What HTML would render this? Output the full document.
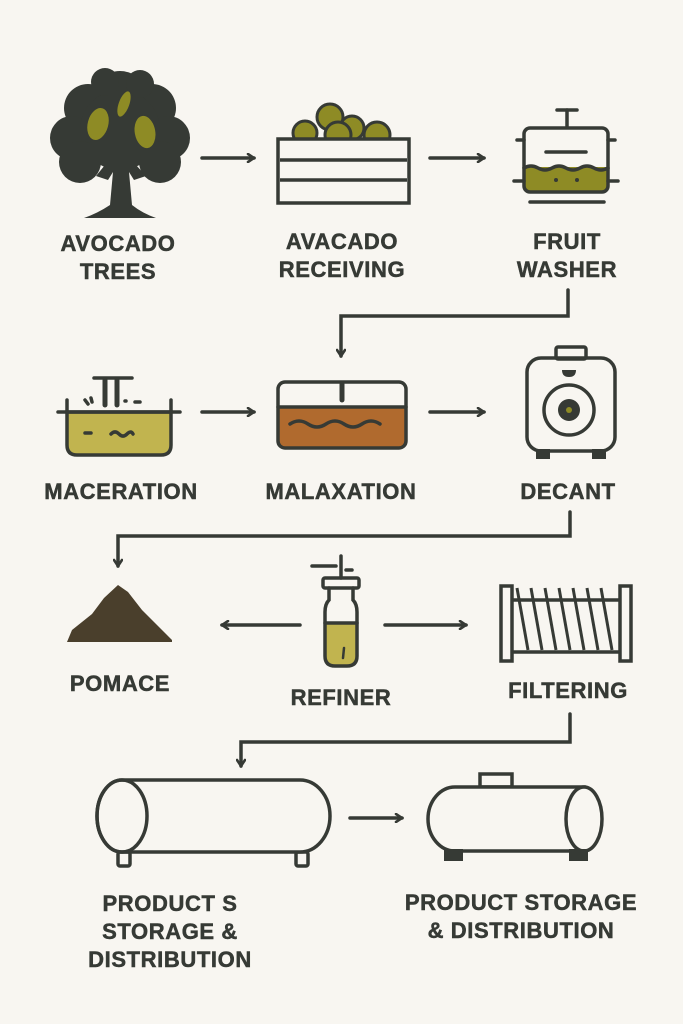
<!DOCTYPE html>
<html><head><meta charset="utf-8"><style>
html,body{margin:0;padding:0;background:#f8f6f1;}
svg{display:block}
text{font-family:"Liberation Sans",sans-serif;font-weight:bold;font-size:22px;letter-spacing:0.6px;fill:#363a35;text-anchor:middle;stroke:#363a35;stroke-width:0.5px}
</style></head><body>
<svg width="683" height="1024" viewBox="0 0 683 1024" xmlns="http://www.w3.org/2000/svg">
<rect width="683" height="1024" fill="#f8f6f1"/>
<defs>
<marker id="ah" markerWidth="10" markerHeight="10" refX="8" refY="5" orient="auto" markerUnits="userSpaceOnUse">
<path d="M2,1 L8,5 L2,9" fill="none" stroke="#363a35" stroke-width="2.6" stroke-linecap="round"/>
</marker>
</defs>
<g stroke="#363a35" stroke-width="3.5" fill="none" stroke-linecap="round">
<line x1="202" y1="158" x2="254" y2="158" marker-end="url(#ah)"/>
<line x1="430" y1="158" x2="484" y2="158" marker-end="url(#ah)"/>
<polyline points="568,290 568,316 341,316 341,356" marker-end="url(#ah)"/>
<line x1="202" y1="412" x2="254" y2="412" marker-end="url(#ah)"/>
<line x1="430" y1="412" x2="484" y2="412" marker-end="url(#ah)"/>
<polyline points="570,512 570,536 118,536 118,566" marker-end="url(#ah)"/>
<line x1="300" y1="625" x2="222" y2="625" marker-end="url(#ah)"/>
<line x1="385" y1="625" x2="466" y2="625" marker-end="url(#ah)"/>
<polyline points="570,714 570,742 241,742 241,766" marker-end="url(#ah)"/>
<line x1="350" y1="818" x2="402" y2="818" marker-end="url(#ah)"/>
</g>
<!-- tree -->
<g fill="#363a35">
<circle cx="120" cy="98" r="27"/><circle cx="88" cy="108" r="24"/><circle cx="152" cy="108" r="24"/>
<circle cx="72" cy="138" r="22"/><circle cx="168" cy="138" r="22"/><circle cx="120" cy="130" r="40"/>
<circle cx="80" cy="162" r="21"/><circle cx="160" cy="162" r="21"/><circle cx="105" cy="82" r="14"/><circle cx="140" cy="84" r="14"/>
<path d="M105,165 L96,176 L108,180 L113,172 L110,205 Q98,213 84,218 L156,218 Q142,213 132,205 L129,172 L134,180 L146,176 L136,165 Z"/>
</g>
<g fill="#8e8b25" stroke="#363a35" stroke-width="1.5">
<ellipse cx="98" cy="124" rx="11" ry="17" transform="rotate(15 98 124)"/>
<ellipse cx="124" cy="104" rx="6" ry="14" transform="rotate(20 124 104)"/>
<ellipse cx="145" cy="132" rx="11" ry="17" transform="rotate(-10 145 132)"/>
</g>
<!-- crate -->
<g fill="#8e8b25" stroke="#363a35" stroke-width="3">
<circle cx="330" cy="117" r="13"/><circle cx="305" cy="133" r="12"/><circle cx="352" cy="128" r="12"/>
<circle cx="338" cy="135" r="13"/><circle cx="377" cy="135" r="13"/>
</g>
<rect x="278" y="139" width="131" height="64" fill="#f8f6f1" stroke="#363a35" stroke-width="3.5"/>
<g stroke="#363a35" stroke-width="3.5"><line x1="280" y1="160" x2="407" y2="160"/><line x1="280" y1="180" x2="407" y2="180"/></g>
<!-- washer -->
<g stroke="#363a35" stroke-width="3.5" fill="none" stroke-linecap="round">
<line x1="557" y1="110" x2="577" y2="110"/><line x1="567" y1="110" x2="567" y2="126"/>
<rect x="524" y="167" width="84" height="24" fill="#8e8b25" stroke="none"/>
<path d="M524,168 q7,-4 14,0 t14,0 t14,0 t14,0 t14,0 t14,0" />
<rect x="524" y="128" width="84" height="64" rx="6"/>
<line x1="517" y1="140" x2="524" y2="140"/><line x1="608" y1="140" x2="615" y2="140"/>
<line x1="514" y1="181" x2="524" y2="181"/><line x1="608" y1="181" x2="618" y2="181"/>
<line x1="546" y1="152" x2="586" y2="152"/><line x1="530" y1="202" x2="604" y2="202"/>
</g>
<circle cx="556" cy="180" r="2" fill="#363a35"/><circle cx="577" cy="180" r="2" fill="#363a35"/>
<!-- maceration -->
<g stroke="#363a35" stroke-width="3.5" fill="none" stroke-linecap="round">
<path d="M67,412 L67,445 Q67,455 77,455 L161,455 Q171,455 171,445 L171,412 Z" fill="#c1b44f"/>
<line x1="58" y1="412" x2="180" y2="412"/>
<line x1="67" y1="400" x2="67" y2="412"/><line x1="171" y1="400" x2="171" y2="412"/>
<line x1="94" y1="378" x2="132" y2="378"/>
<line x1="105" y1="380" x2="105" y2="405" stroke-width="5"/><line x1="117" y1="380" x2="117" y2="405" stroke-width="5"/>
<line x1="85" y1="400" x2="88" y2="404"/><line x1="91" y1="398" x2="92" y2="402"/><line x1="125" y1="401" x2="126" y2="401"/><line x1="135" y1="402" x2="140" y2="402"/>
<line x1="85" y1="433" x2="91" y2="433"/>
<path d="M111,434 q4,-4 8,0 t8,0 t6,0"/>
</g>
<!-- malaxation -->
<g stroke="#363a35" stroke-width="3.5" fill="none" stroke-linecap="round">
<path d="M278,407 L406,407 L406,440 Q406,448 398,448 L286,448 Q278,448 278,440 Z" fill="#b06a2e" stroke="none"/>
<rect x="278" y="382" width="128" height="66" rx="7"/>
<line x1="278" y1="407" x2="406" y2="407"/>
<line x1="342" y1="384" x2="342" y2="400" stroke-width="5"/>
<path d="M290,424 q9,-6 18,0 t18,0 t18,0 t18,0 t18,0" />
</g>
<!-- decanter -->
<g stroke="#363a35" stroke-width="3.5" fill="none">
<rect x="556" y="347" width="30" height="12" rx="2"/>
<rect x="527" y="358" width="88" height="93" rx="14"/>
<circle cx="569" cy="410" r="25"/>
</g>
<circle cx="569" cy="410" r="11" fill="#363a35"/><circle cx="569" cy="410" r="3" fill="#8e8b25"/>
<path d="M562,370 L576,370 Q576,377 569,377 Q562,377 562,370 Z" fill="#363a35"/>
<rect x="536" y="449" width="14" height="10" fill="#363a35"/><rect x="592" y="449" width="14" height="10" fill="#363a35"/>
<!-- pomace -->
<path d="M67,642 L72,630 L92,614 L104,598 L118,585 L128,592 L142,610 L160,628 L172,640 L172,642 Z" fill="#4a3f2c"/>
<!-- refiner -->
<g stroke="#363a35" stroke-width="3.5" fill="none" stroke-linecap="round">
<line x1="341" y1="556" x2="341" y2="578"/><line x1="312" y1="566" x2="336" y2="566"/><line x1="346" y1="570" x2="352" y2="570"/>
<rect x="323" y="578" width="36" height="10" rx="2"/>
<path d="M325,623 L357,623 L357,656 Q357,666 347,666 L335,666 Q325,666 325,656 Z" fill="#c1b44f" stroke="none"/>
<path d="M329,588 L329,600 Q325,604 325,612 L325,656 Q325,666 335,666 L347,666 Q357,666 357,656 L357,612 Q357,604 353,600 L353,588"/>
<line x1="325" y1="623" x2="357" y2="623"/>
<path d="M344,648 L343,658" stroke-width="2.5"/>
</g>
<!-- filter -->
<g stroke="#363a35" stroke-width="3.5" fill="none">
<rect x="501" y="586" width="11" height="75"/><rect x="620" y="586" width="11" height="75"/>
<line x1="512" y1="600" x2="620" y2="600"/><line x1="512" y1="652" x2="620" y2="652"/>
<g stroke-width="3"><line x1="517" y1="588" x2="528" y2="650"/><line x1="531" y1="588" x2="542" y2="650"/><line x1="545" y1="588" x2="556" y2="650"/><line x1="559" y1="588" x2="570" y2="650"/><line x1="573" y1="588" x2="584" y2="650"/><line x1="587" y1="588" x2="598" y2="650"/><line x1="601" y1="588" x2="612" y2="650"/></g>
</g>
<!-- tank 1 -->
<g stroke="#363a35" stroke-width="3.5" fill="none">
<rect x="118" y="852" width="12" height="14" rx="2"/><rect x="296" y="852" width="12" height="14" rx="2"/>
<path d="M122,780 L300,780 A30,36 0 0 1 300,852 L122,852 A25,36 0 0 1 122,780 Z" fill="#f8f6f1"/>
<ellipse cx="122" cy="816" rx="25" ry="36"/>
</g>
<!-- tank 2 -->
<g stroke="#363a35" stroke-width="3.5" fill="none">
<rect x="480" y="774" width="32" height="13"/>
<path d="M455,787 L584,787 L584,851 L455,851 A27,32 0 0 1 455,787 Z" fill="#f8f6f1"/>
<ellipse cx="584" cy="819" rx="18" ry="32" fill="#f8f6f1"/>
</g>
<rect x="444" y="849" width="19" height="12" fill="#363a35"/><rect x="569" y="849" width="19" height="12" fill="#363a35"/>
<!-- labels -->
<text x="118" y="251">AVOCADO</text><text x="118" y="279">TREES</text>
<text x="342" y="249">AVACADO</text><text x="342" y="277">RECEIVING</text>
<text x="567" y="249">FRUIT</text><text x="567" y="277">WASHER</text>
<text x="121" y="499">MACERATION</text>
<text x="341" y="499">MALAXATION</text>
<text x="568" y="499">DECANT</text>
<text x="120" y="691">POMACE</text>
<text x="341" y="705">REFINER</text>
<text x="568" y="698">FILTERING</text>
<text x="170" y="911">PRODUCT S</text><text x="170" y="939">STORAGE &amp;</text><text x="170" y="967">DISTRIBUTION</text>
<text x="521" y="910">PRODUCT STORAGE</text><text x="521" y="938">&amp; DISTRIBUTION</text>
</svg>
</body></html>
